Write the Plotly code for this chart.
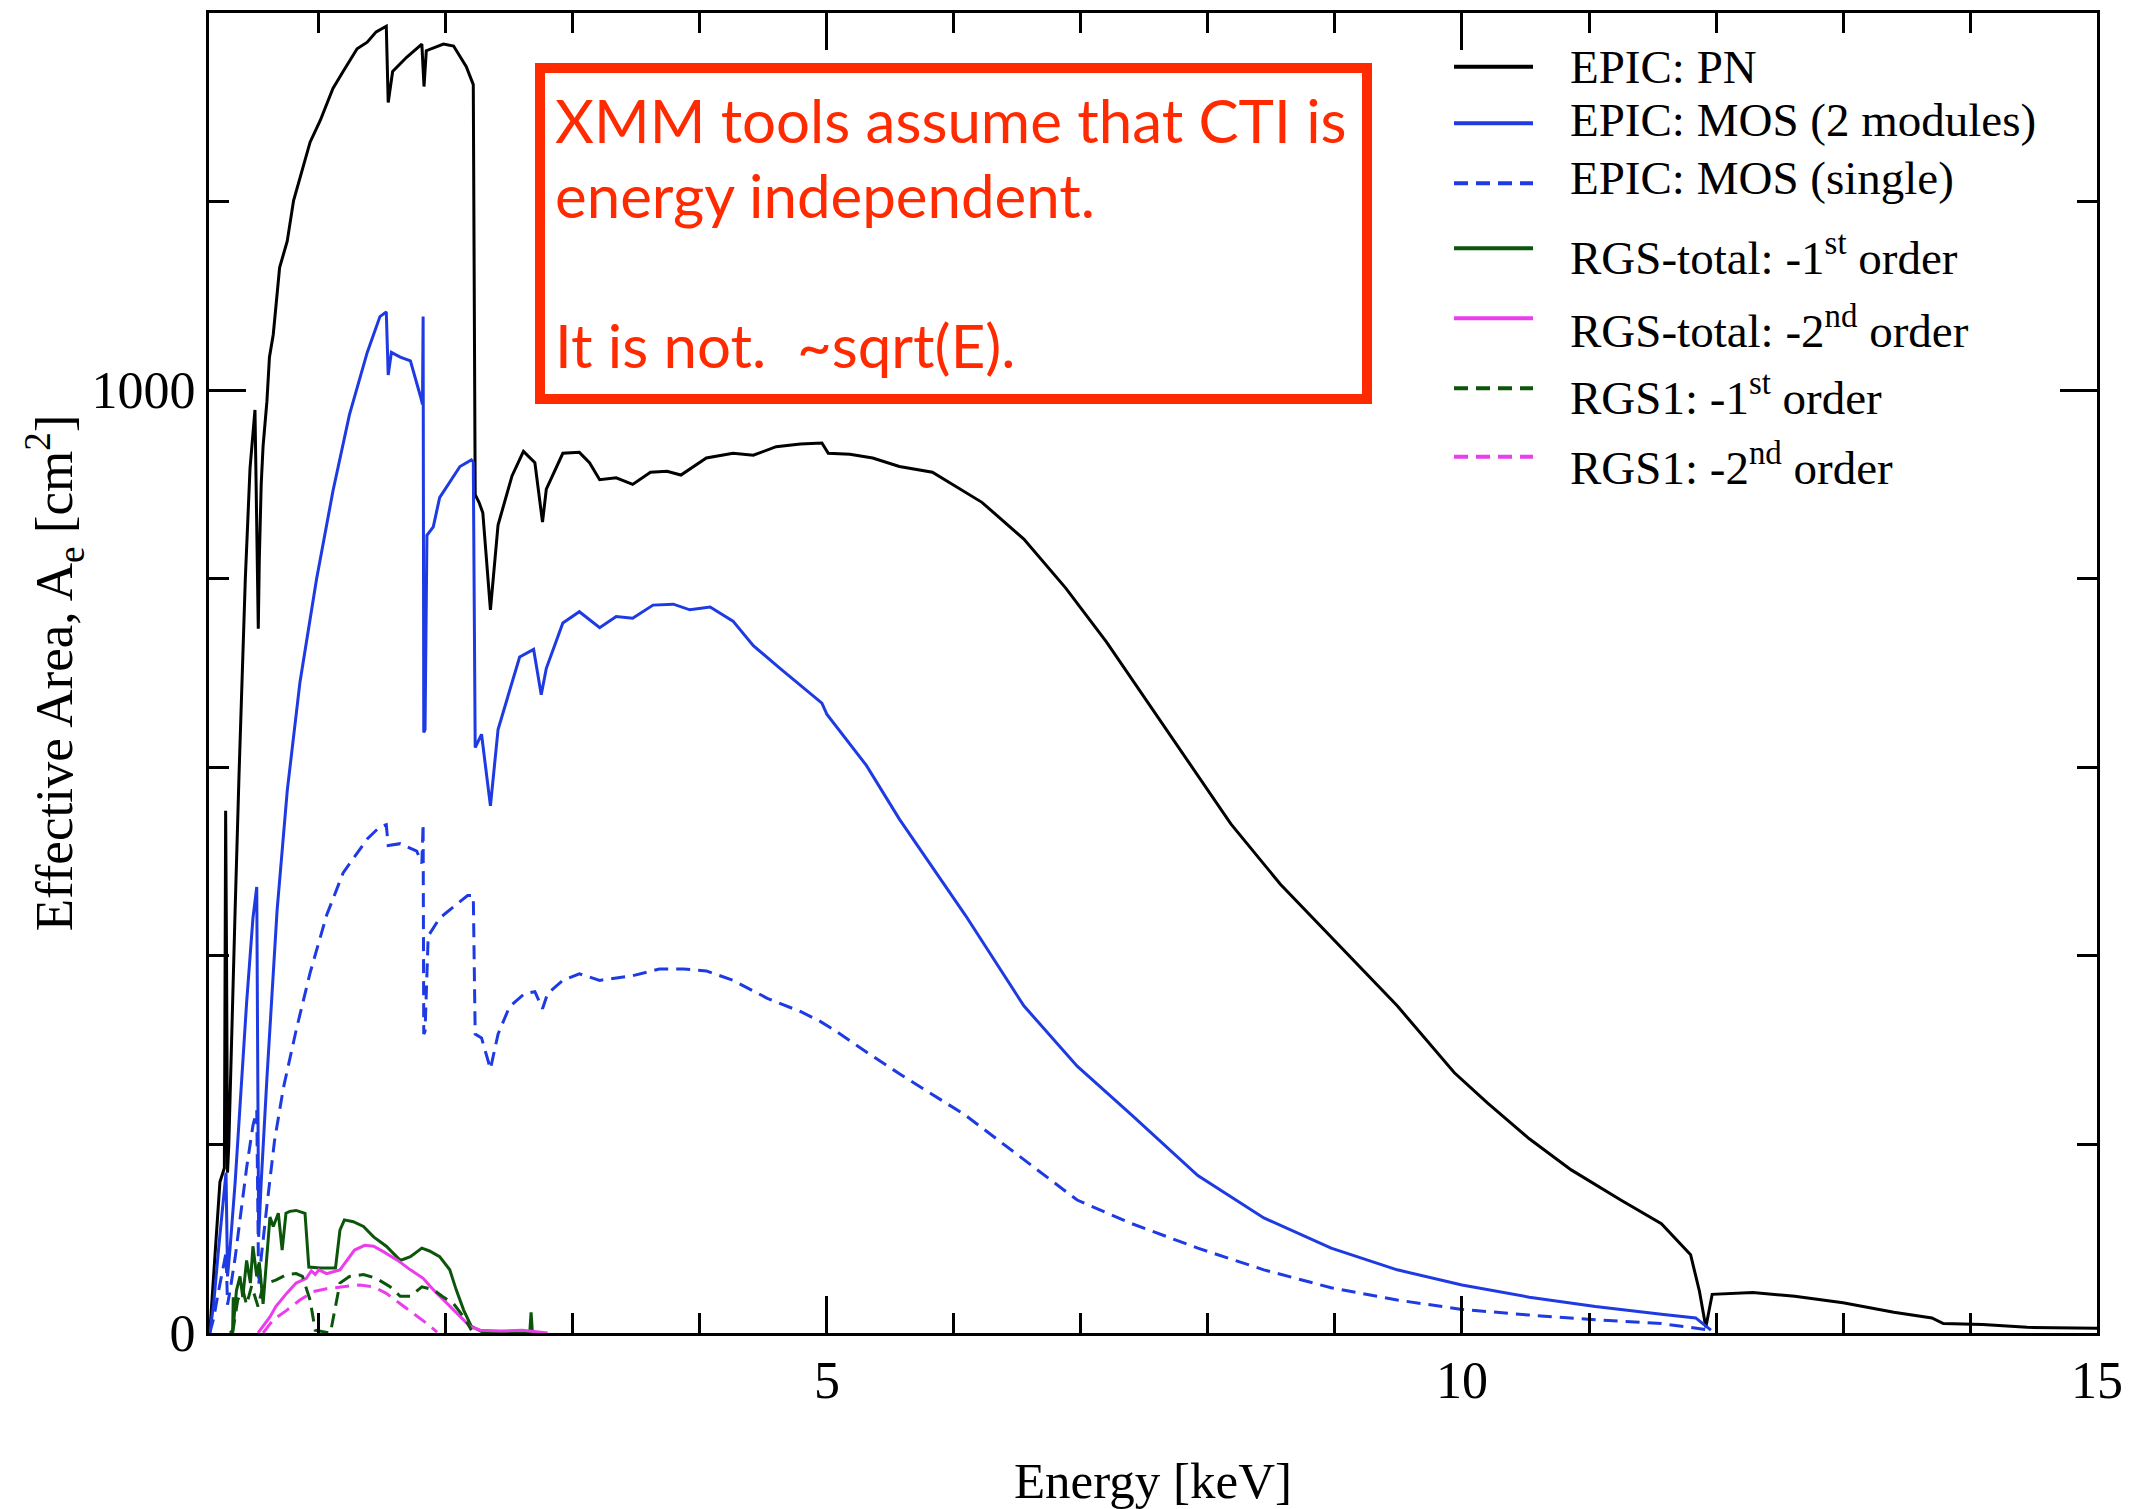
import plotly.graph_objects as go

# ---------------- data (energy in keV, effective area in cm^2) ----------------
pn_e = [0.14, 0.16, 0.19, 0.22, 0.255, 0.265, 0.272, 0.28, 0.29, 0.31, 0.34, 0.37, 0.39, 0.42, 0.457,
        0.48, 0.496, 0.505, 0.522, 0.53, 0.545, 0.56, 0.59, 0.61, 0.64, 0.69, 0.75, 0.80, 0.85, 0.93,
        1.01, 1.11, 1.19, 1.30, 1.38, 1.45, 1.53,
        1.545, 1.58, 1.69, 1.81, 1.827, 1.845, 1.98, 2.06, 2.16, 2.215, 2.23, 2.26, 2.29, 2.35, 2.41,
        2.52, 2.61, 2.70, 2.76, 2.79, 2.92, 3.05, 3.13, 3.21, 3.34, 3.47, 3.61, 3.74, 3.85, 4.05, 4.26,
        4.42, 4.60, 4.79, 4.96, 5.01, 5.18, 5.36, 5.57, 5.83, 6.22, 6.55, 6.88, 7.20, 7.53, 7.86, 8.18,
        8.57, 9.03, 9.49, 9.94, 10.2, 10.53, 10.86, 11.25, 11.57, 11.80, 11.87, 11.92, 11.97, 12.29,
        12.62, 13.0, 13.40, 13.70, 13.79, 14.1, 14.45, 15.0]
pn_a = [0, 40, 110, 160, 175, 554, 400, 170, 200, 290, 450, 590, 672, 800, 917,
        960, 979, 900, 747, 820, 900, 941, 988, 1035, 1059, 1130, 1158, 1201, 1225, 1263,
        1286, 1320, 1338, 1362, 1369, 1380, 1386,
        1305, 1338, 1353, 1367, 1322, 1360, 1367, 1365, 1343, 1324, 889, 881, 870, 767, 857,
        909, 935, 923, 860, 895, 933, 934, 923, 905, 907, 900, 913, 914, 910, 928, 933,
        931, 940, 943, 944, 933, 932, 928, 919, 913, 881, 842, 790, 733, 668, 604, 540,
        476, 411, 347, 276, 244, 206, 173, 141, 116, 83, 44, 6, 41, 43,
        39, 32, 22, 16, 10, 9, 6, 5]

mos2_e = [0.14, 0.17, 0.21, 0.25, 0.268, 0.28, 0.30, 0.34, 0.38, 0.43, 0.48, 0.51, 0.525, 0.545, 0.59,
          0.67, 0.75, 0.85, 0.98, 1.11, 1.24, 1.38, 1.48, 1.53, 1.545, 1.57, 1.64, 1.72, 1.80, 1.815,
          1.82, 1.825, 1.835, 1.85, 1.90, 1.95, 2.11, 2.20, 2.215, 2.23, 2.28, 2.35, 2.41, 2.49, 2.58,
          2.69, 2.75, 2.79, 2.92, 3.05, 3.21, 3.34, 3.47, 3.63, 3.79, 3.92, 4.08, 4.26, 4.42, 4.63,
          4.79, 4.96, 5.0, 5.31, 5.57, 6.09, 6.55, 6.97, 7.40, 7.92, 8.44, 8.97, 9.49, 10.0, 10.53,
          11.05, 11.57, 11.84, 11.96]
mos2_a = [0, 30, 90, 150, 170, 60, 90, 160, 250, 350, 440, 473, 102, 160, 270,
          448, 575, 690, 799, 893, 974, 1040, 1078, 1083, 1016, 1040, 1035, 1031, 993, 985,
          1078, 637, 640, 846, 855, 886, 919, 926, 924, 621, 635, 559, 640, 677, 717,
          725, 677, 705, 753, 765, 748, 760, 758, 772, 773, 767, 770, 755, 729, 705,
          687, 668, 656, 602, 545, 443, 347, 283, 231, 167, 122, 90, 67, 51, 38,
          28, 20, 16, 3]

mos1_e = [0.14, 0.17, 0.21, 0.25, 0.268, 0.28, 0.30, 0.34, 0.38, 0.43, 0.48, 0.51, 0.525, 0.545, 0.59,
          0.65, 0.72, 0.82, 0.93, 1.06, 1.19, 1.38, 1.48, 1.53, 1.545, 1.64, 1.77, 1.81, 1.82, 1.825,
          1.835, 1.86, 1.95, 2.04, 2.17, 2.215, 2.23, 2.28, 2.35, 2.41, 2.50, 2.62, 2.70, 2.76, 2.80,
          2.92, 3.05, 3.21, 3.47, 3.68, 3.87, 4.05, 4.26, 4.53, 4.79, 4.94, 5.05, 5.31, 5.57, 6.09,
          6.55, 6.97, 7.40, 7.92, 8.44, 8.97, 9.49, 10.0, 10.53, 11.05, 11.57, 11.96]
mos1_a = [0, 15, 45, 75, 85, 30, 45, 80, 125, 175, 220, 236, 51, 80, 135,
          204, 260, 321, 382, 443, 488, 524, 537, 539, 517, 519, 511, 498, 540, 317,
          320, 421, 440, 450, 464, 464, 317, 313, 280, 317, 346, 360, 362, 344, 360,
          374, 381, 374, 379, 386, 386, 384, 374, 355, 341, 331, 322, 298, 275, 231,
          184, 141, 116, 90, 67, 48, 35, 25, 19, 14, 10, 3]

rgst1_e = [0.30, 0.32, 0.325, 0.33, 0.35, 0.378, 0.40, 0.43, 0.46, 0.48, 0.51, 0.53, 0.56, 0.59, 0.614,
           0.64, 0.68, 0.71, 0.74, 0.77, 0.82, 0.89, 0.92, 1.01, 1.13, 1.165, 1.20, 1.27, 1.35, 1.43,
           1.53, 1.64, 1.72, 1.81, 1.87, 1.95, 2.03, 2.08, 2.14, 2.20, 2.29, 2.66, 2.67, 2.68, 2.76]
rgst1_a = [0, 3, 38, 14, 45, 60, 38, 77, 53, 92, 60, 75, 31, 80, 123,
           113, 127, 88, 127, 129, 130, 127, 70, 69, 69, 109, 120, 118, 113, 102,
           92, 77, 81, 90, 87, 81, 67, 46, 24, 7, 1, 1, 22, 1, 0]

rgst2_e = [0.52, 0.614, 0.66, 0.745, 0.82, 0.90, 0.94, 0.97, 1.0, 1.06, 1.165, 1.22, 1.28, 1.36, 1.43,
           1.51, 1.62, 1.72, 1.82, 1.90, 2.01, 2.11, 2.19, 2.27, 2.43, 2.60, 2.76, 2.80]
rgst2_a = [0, 17, 28, 42, 53, 58, 66, 62, 67, 63, 67, 77, 88, 93, 92,
           86, 77, 67, 58, 46, 31, 17, 7, 3, 2, 3, 1, 0]

rgs11_e = [0.32, 0.36, 0.40, 0.43, 0.47, 0.52, 0.55, 0.59, 0.66, 0.745, 0.82, 0.87, 0.93, 0.97, 1.09,
           1.13, 1.165, 1.24, 1.35, 1.45, 1.56, 1.64, 1.72, 1.81, 1.90, 1.97, 2.06, 2.14, 2.20]
rgs11_a = [0, 35, 46, 30, 50, 28, 45, 53, 56, 62, 63, 60, 35, 3, 0,
           28, 53, 60, 62, 58, 49, 39, 39, 49, 46, 39, 31, 17, 3]

rgs12_e = [0.56, 0.64, 0.745, 0.85, 0.955, 1.06, 1.19, 1.32, 1.43, 1.53, 1.64, 1.74, 1.85, 1.93]
rgs12_a = [0, 14, 24, 35, 44, 47, 49, 51, 49, 42, 31, 21, 10, 1]

legend_labels = ["EPIC: PN", "EPIC: MOS (2 modules)", "EPIC: MOS (single)",
                 "RGS-total: -1<sup>st</sup> order", "RGS-total: -2<sup>nd</sup> order",
                 "RGS1: -1<sup>st</sup> order", "RGS1: -2<sup>nd</sup> order"]

note_lines = ["XMM tools assume that CTI is", "energy independent.", "It is not.  ~sqrt(E)."]

x_ticks = [5, 10, 15]
y_ticks = [0, 1000]

# ---------------- styles ----------------
BLACK = "#000000"
BLUE = "#1e3ae2"
GREEN = "#0c560c"
MAGENTA = "#ec3dec"
RED = "#ff2a00"
DASH = "14px,8px"
SERIF = "Liberation Serif"

series = [
    (pn_e, pn_a, BLACK, "solid"),
    (mos2_e, mos2_a, BLUE, "solid"),
    (mos1_e, mos1_a, BLUE, DASH),
    (rgst1_e, rgst1_a, GREEN, "solid"),
    (rgst2_e, rgst2_a, MAGENTA, "solid"),
    (rgs11_e, rgs11_a, GREEN, DASH),
    (rgs12_e, rgs12_a, MAGENTA, DASH),
]

fig = go.Figure()
for (xe, ya, col, dash), name in zip(series, legend_labels):
    fig.add_trace(go.Scatter(x=xe, y=ya, mode="lines", name=name,
                             line=dict(color=col, width=3, dash=dash), showlegend=False))

W, H = 2132, 1509
L, R, T, B = 209, 35, 13, 176
PW, PH = W - L - R, H - T - B


def px(x):
    return (x - L) / PW


def py(y):
    return (H - B - y) / PH


shapes = []
annotations = []

# red note box
shapes.append(dict(type="rect", xref="paper", yref="paper",
                   x0=px(540), x1=px(1367), y0=py(68), y1=py(399),
                   line=dict(color=RED, width=10), fillcolor="rgba(0,0,0,0)"))
for txt, yc in zip(note_lines, [120, 195, 345]):
    annotations.append(dict(text=txt, xref="paper", yref="paper", x=px(553), y=py(yc),
                            xanchor="left", yanchor="middle", showarrow=False,
                            font=dict(family="Lato", size=60, color=RED)))

# legend (manual)
sample_y = [66.7, 123.3, 183.3, 248.3, 318.3, 388.3, 456.7]
text_y = [67, 120, 178, 254, 327, 394, 464]
for (xe, ya, col, dash), lab, sy, ty in zip(series, legend_labels, sample_y, text_y):
    shapes.append(dict(type="line", xref="paper", yref="paper",
                       x0=px(1454), x1=px(1533), y0=py(sy), y1=py(sy),
                       line=dict(color=col, width=4, dash=dash)))
    annotations.append(dict(text=lab, xref="paper", yref="paper", x=px(1568), y=py(ty),
                            xanchor="left", yanchor="middle", showarrow=False,
                            font=dict(family=SERIF, size=47, color=BLACK)))

axis_common = dict(showline=True, linewidth=3, linecolor=BLACK, mirror="allticks",
                   ticks="inside", ticklen=37, tickwidth=2.5, tickcolor=BLACK,
                   showgrid=False, zeroline=False,
                   tickfont=dict(family=SERIF, size=52, color=BLACK))

fig.update_layout(
    width=W, height=H,
    margin=dict(l=L, r=R, t=T, b=B, autoexpand=False),
    paper_bgcolor="white", plot_bgcolor="white",
    showlegend=False,
    shapes=shapes, annotations=annotations,
    xaxis=dict(range=[0.134, 15], tickmode="array", tickvals=x_ticks,
               ticktext=[str(v) for v in x_ticks],
               minor=dict(ticks="inside", ticklen=20, tickwidth=2.5, tickcolor=BLACK,
                          dtick=1, tick0=0, showgrid=False),
               title=dict(text="Energy [keV]", font=dict(family=SERIF, size=51, color=BLACK),
                          standoff=60),
               **axis_common),
    yaxis=dict(range=[0, 1400], tickmode="array", tickvals=y_ticks,
               ticktext=[str(v) for v in y_ticks],
               minor=dict(ticks="inside", ticklen=20, tickwidth=2.5, tickcolor=BLACK,
                          dtick=200, tick0=0, showgrid=False),
               title=dict(text="Effective Area, A<sub>e</sub> [cm<sup>2</sup>]",
                          font=dict(family=SERIF, size=53, color=BLACK), standoff=2),
               **axis_common),
)

fig.write_html("out.html", post_script="document.body.style.margin='0';")
